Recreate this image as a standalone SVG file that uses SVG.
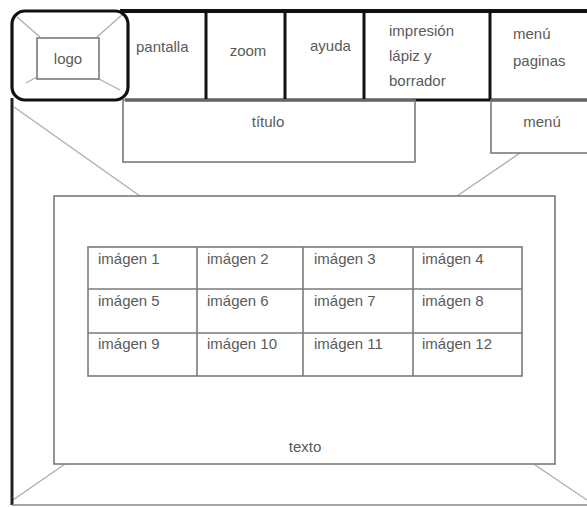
<svg xmlns="http://www.w3.org/2000/svg" width="587" height="507" viewBox="0 0 587 507">
<style>
text{font-family:"Liberation Sans",Arial,sans-serif;font-size:15px;fill:#5a5a5a}
.thin{fill:none;stroke:#7a7a7a;stroke-width:1.6}
.thick{fill:none;stroke:#111;stroke-width:3.2}
.diag{stroke:#a9b1b5;stroke-width:1.4}
.mid{text-anchor:middle}
</style>
<rect width="587" height="507" fill="#fff"/>
<g id="connectors">
<line class="diag" x1="14" y1="107" x2="140" y2="196"/>
<line class="diag" x1="520" y1="153" x2="457" y2="196"/>
<line class="diag" x1="65" y1="464" x2="13" y2="500"/>
<line class="diag" x1="535" y1="465" x2="587" y2="500"/>
<line class="diag" x1="17" y1="17" x2="40" y2="37"/>
<line class="diag" x1="123" y1="14" x2="97" y2="37"/>
<line class="diag" x1="26" y1="83" x2="37" y2="77"/>
<line class="diag" x1="120" y1="90" x2="99" y2="79"/>
</g>
<g id="frame">
<line x1="12" y1="98" x2="12" y2="505" stroke="#222" stroke-width="3"/>
<line x1="12" y1="505" x2="587" y2="505" stroke="#888" stroke-width="1.5"/>
</g>
<g id="logo">
<rect x="12" y="11" width="116" height="89" rx="13" class="thick"/>
<rect x="37" y="38" width="62" height="41" class="thin"/>
<text x="68" y="64" class="mid">logo</text>
</g>
<g id="toolbar">
<line x1="120" y1="11" x2="587" y2="11" stroke="#111" stroke-width="3.8"/>
<line x1="125" y1="100" x2="587" y2="100" stroke="#111" stroke-width="3"/>
<line x1="206" y1="11" x2="206" y2="100" stroke="#111" stroke-width="3"/>
<line x1="285" y1="11" x2="285" y2="100" stroke="#111" stroke-width="3"/>
<line x1="364" y1="11" x2="364" y2="100" stroke="#111" stroke-width="3"/>
<line x1="490" y1="11" x2="490" y2="100" stroke="#111" stroke-width="3"/>
</g>
<g id="pantalla"><text x="136" y="52">pantalla</text></g>
<g id="zoom"><text x="248" y="56" class="mid">zoom</text></g>
<g id="ayuda"><text x="310" y="51">ayuda</text></g>
<g id="impresion">
<text x="389" y="36">impresión</text>
<text x="389" y="61">lápiz y</text>
<text x="389" y="86">borrador</text>
</g>
<g id="menu-paginas">
<text x="513" y="39">menú</text>
<text x="513" y="66">paginas</text>
</g>
<g id="titulo">
<rect x="123" y="100" width="292" height="62" class="thin"/>
<text x="268" y="127" class="mid">título</text>
</g>
<g id="menu">
<rect x="491" y="100" width="100" height="53" class="thin"/>
<text x="542" y="127" class="mid">menú</text>
</g>
<g id="texto">
<rect x="54" y="196" width="501" height="268" class="thin" stroke-width="2"/>
<text x="305" y="452" class="mid">texto</text>
</g>
<g id="imagenes">
<rect x="88" y="247" width="434" height="129" class="thin"/>
<line class="thin" x1="197" y1="247" x2="197" y2="376"/>
<line class="thin" x1="303" y1="247" x2="303" y2="376"/>
<line class="thin" x1="413" y1="247" x2="413" y2="376"/>
<line class="thin" x1="88" y1="289" x2="522" y2="289"/>
<line class="thin" x1="88" y1="333" x2="522" y2="333"/>
<text x="98" y="264">imágen 1</text>
<text x="207" y="264">imágen 2</text>
<text x="314" y="264">imágen 3</text>
<text x="422" y="264">imágen 4</text>
<text x="98" y="306">imágen 5</text>
<text x="207" y="306">imágen 6</text>
<text x="314" y="306">imágen 7</text>
<text x="422" y="306">imágen 8</text>
<text x="98" y="349">imágen 9</text>
<text x="207" y="349">imágen 10</text>
<text x="314" y="349">imágen 11</text>
<text x="422" y="349">imágen 12</text>
</g>
</svg>
